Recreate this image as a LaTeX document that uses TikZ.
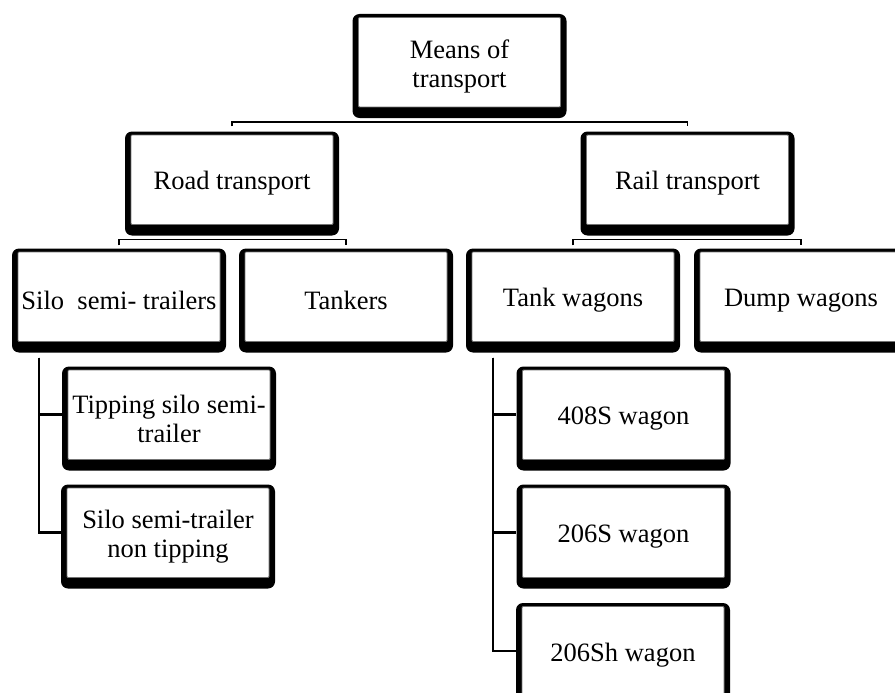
\documentclass[tikz,border=0pt]{standalone}
\usepackage{fontspec}
\setmainfont{Liberation Serif}
\newcommand{\unitfont}{\fontsize{26.5}{29}\selectfont}

\tikzset{
    unitbox/.style={fill=black, rounded corners=7pt, inner sep=0pt, align=center,
        minimum width=214pt, minimum height=104pt, font=\unitfont,
        path picture={\fill[white, draw=black!55, line width=0.8pt, rounded corners=1pt]
            ([xshift=6pt,yshift=11pt]path picture bounding box.south west) rectangle
            ([xshift=-6pt,yshift=-3.5pt]path picture bounding box.north east);}},
    branch/.style={line width=1.5pt},
    stem/.style={line width=2.6pt}
}

\begin{document}
\begin{tikzpicture}[x=1pt, y=-1pt]

    % Page frame
    \useasboundingbox (0,0) rectangle (895,693);
    \clip (0,0) rectangle (895,693);

    % Row heights
    \pgfmathsetmacro{\yA}{66}
    \pgfmathsetmacro{\yB}{183.5}
    \pgfmathsetmacro{\yC}{300.5}
    \pgfmathsetmacro{\yD}{418.5}
    \pgfmathsetmacro{\yE}{536.5}
    \pgfmathsetmacro{\yF}{655}

    % Boxes
    \node[unitbox] (means) at (459.5,\yA) {Means of\\transport};
    \node[unitbox] (road) at (232,\yB) {Road transport};
    \node[unitbox] (rail) at (687.5,\yB) {Rail transport};
    \node[unitbox] (silo) at (119,\yC) {Silo\ \ semi- trailers};
    \node[unitbox] (tankers) at (346,\yC) {Tankers};
    \node[unitbox] (tank) at (573,\yC) {Tank wagons};
    \node[unitbox] (dump) at (801,\yC) {Dump wagons};
    \node[unitbox] (tipping) at (169,\yD) {Tipping silo semi-\\trailer};
    \node[unitbox] (nontip) at (168,\yE) {Silo semi-trailer\\non tipping};
    \node[unitbox] (wA) at (623.5,\yD) {408S wagon};
    \node[unitbox] (wB) at (623.5,\yE) {206S wagon};
    \node[unitbox] (wC) at (623,\yF) {206Sh wagon};

    % Branches between the levels
    \draw[branch] ([yshift=5pt]road.north) |- ([yshift=-4pt]means.south) -| ([yshift=5pt]rail.north);
    \draw[branch] ([yshift=3pt]silo.north) |- ([yshift=-4pt]road.south) -| ([yshift=3pt]tankers.north);
    \draw[branch] ([yshift=3pt]tank.north) |- ([yshift=-4pt]rail.south) -| ([yshift=3pt]dump.north);

    % Stems down to the sub-types
    \foreach \child in {tipping, nontip}
        \draw[stem] ([xshift=27pt,yshift=-5pt]silo.south west) |- ([yshift=4pt]\child.west);
    \foreach \child in {wA, wB, wC}
        \draw[stem] ([xshift=27pt,yshift=-5pt]tank.south west) |- ([yshift=4pt]\child.west);

\end{tikzpicture}
\end{document}
